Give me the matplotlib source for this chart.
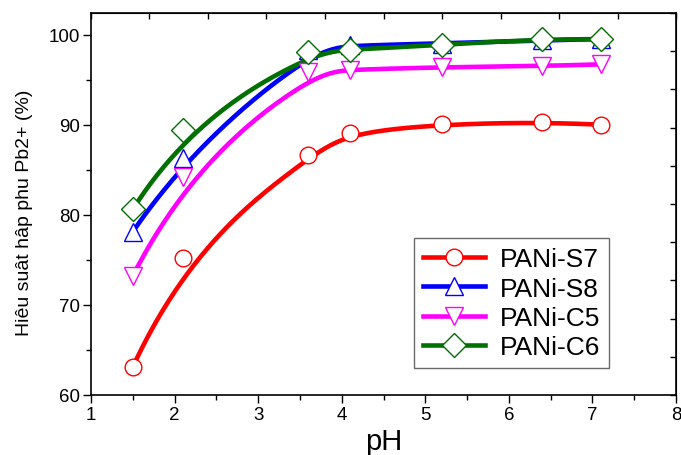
import numpy as np
import matplotlib
matplotlib.use("Agg")
import matplotlib.pyplot as plt
from matplotlib.ticker import MultipleLocator, LinearLocator, NullFormatter

plt.rcParams['font.family'] = ['Liberation Sans', 'DejaVu Sans']

ph = [1.5, 2.1, 3.6, 4.1, 5.2, 6.4, 7.1]
s7 = [63.1, 75.2, 86.6, 89.1, 90.1, 90.3, 90.0]
s8 = [78.1, 86.3, 98.3, 98.8, 99.0, 99.4, 99.5]
c5 = [73.2, 84.2, 95.8, 96.1, 96.4, 96.5, 96.7]
c6 = [80.6, 89.4, 98.1, 98.3, 98.9, 99.5, 99.5]

labels = ["PANi-S7", "PANi-S8", "PANi-C5", "PANi-C6"]
colors = ["#ff0000", "#0000ff", "#ff00ff", "#007000"]
markers = ["o", "^", "v", "D"]
msizes = [12, 13, 13, 12]


def bspline(xs, ys, n=300, k=3):
    """Clamped B-spline curve using the data points as control points."""
    P = np.column_stack([xs, ys])
    m = len(P)
    knots = np.concatenate([np.zeros(k), np.linspace(0, 1, m - k + 1), np.ones(k)])
    t = np.linspace(0, 1, n)
    t[-1] = 1 - 1e-12

    def basis(i, kk, u):
        if kk == 0:
            return ((knots[i] <= u) & (u < knots[i + 1])).astype(float)
        out = np.zeros_like(u)
        d1 = knots[i + kk] - knots[i]
        d2 = knots[i + kk + 1] - knots[i + 1]
        if d1 > 0:
            out += (u - knots[i]) / d1 * basis(i, kk - 1, u)
        if d2 > 0:
            out += (knots[i + kk + 1] - u) / d2 * basis(i + 1, kk - 1, u)
        return out

    B = np.array([basis(i, k, t) for i in range(m)])
    C = B.T @ P
    return C[:, 0], C[:, 1]


fig = plt.figure(figsize=(6.81, 4.56), dpi=100)
ax = fig.add_axes([0.1336, 0.1316, 0.8591, 0.8377])

for ys, lab, col, mk, ms in zip([s7, s8, c5, c6], labels, colors, markers, msizes):
    cx, cy = bspline(ph, ys)
    ax.plot(cx, cy, color=col, lw=3.3, solid_capstyle='butt', zorder=2)
    ax.plot(ph, ys, linestyle='none', marker=mk, ms=ms, mfc='white',
            mec=col, mew=1.0, zorder=3)
    ax.plot([], [], color=col, lw=3.3, marker=mk, ms=ms, mfc='white',
            mec=col, mew=1.0, label=lab)

ax.set_xlim(1, 8)
ax.set_ylim(60, 102.4)
ax.xaxis.set_major_locator(MultipleLocator(1))
ax.xaxis.set_minor_locator(MultipleLocator(0.5))
ax.yaxis.set_major_locator(MultipleLocator(10))
ax.yaxis.set_minor_locator(MultipleLocator(5))
ax.tick_params(which='major', direction='out', length=6, width=1, labelsize=13.5,
               top=False, right=False, pad=2)
ax.tick_params(which='minor', direction='out', length=3.5, width=1,
               top=False, right=False)
for sp in ax.spines.values():
    sp.set_linewidth(1.2)

# plain top/right axes with evenly spaced inward ticks
top = ax.secondary_xaxis('top')
top.xaxis.set_major_locator(LinearLocator(11))
top.xaxis.set_major_formatter(NullFormatter())
top.tick_params(direction='in', length=4.5, width=1)
right = ax.secondary_yaxis('right')
right.yaxis.set_major_locator(LinearLocator(11))
right.yaxis.set_major_formatter(NullFormatter())
right.tick_params(direction='in', length=4.5, width=1)

ax.set_xlabel("pH", fontsize=21, labelpad=3)
ax.set_ylabel("Hiêu suât hâp phu Pb2+ (%)", fontsize=14)
ax.yaxis.set_label_coords(-0.099, 0.479)

leg = ax.legend(loc='upper left', bbox_to_anchor=(0.552, 0.411), fontsize=19,
                frameon=True, fancybox=False, edgecolor='#444444',
                handlelength=2.35, handletextpad=0.55, labelspacing=0.2,
                borderpad=0.35, borderaxespad=0)
leg.get_frame().set_linewidth(1.0)

fig.savefig("out.png", dpi=100)
